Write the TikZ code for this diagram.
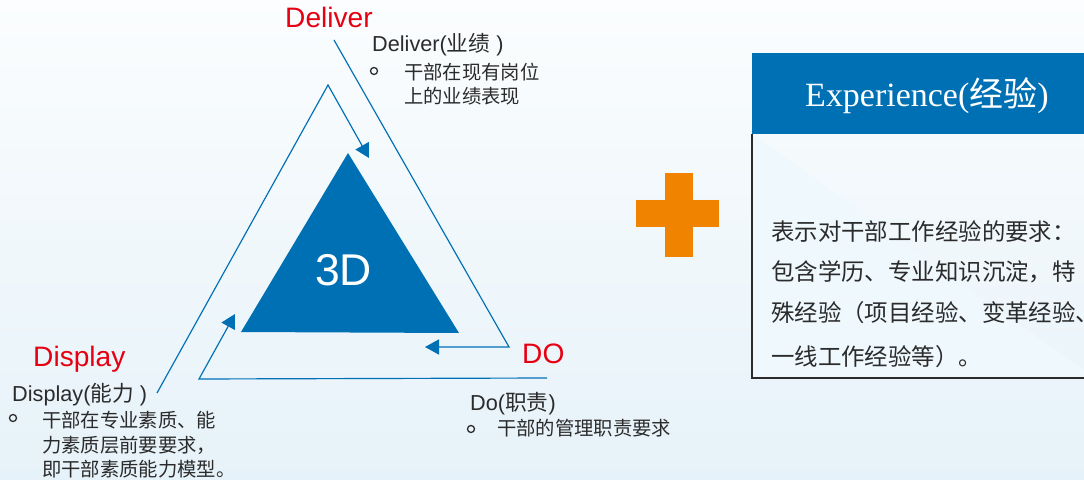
\documentclass[tikz,border=0pt]{standalone}
\usepackage{fontspec}
\setmainfont{Liberation Sans}
\newfontfamily\cjk{Noto Sans CJK SC}
\newfontfamily\serifen{Liberation Serif}
\usetikzlibrary{arrows.meta}

\definecolor{dblue}{HTML}{0070B5}
\definecolor{dred}{HTML}{E60012}
\definecolor{dorange}{HTML}{F08300}
\definecolor{dgray}{HTML}{2B2B2B}
\definecolor{bgtop}{HTML}{FBFDFE}
\definecolor{bgbot}{HTML}{E6F2F9}
\definecolor{boxbg}{HTML}{EEF8FD}

\tikzset{
  cycleline/.style={draw=dblue, line width=1pt, -{Triangle[length=12pt,width=13pt]}},
  redlbl/.style={anchor=base west, inner sep=0, text=dred, font=\fontsize{24}{28}\selectfont},
  namelbl/.style={anchor=base west, inner sep=0, text=dgray, font=\fontsize{18.5}{22}\selectfont},
  cjkline/.style={anchor=west, inner sep=0, text=dgray, text height=14.5pt, text depth=2pt,
    font=\cjk\fontsize{16.5}{20}\selectfont},
  boxline/.style={anchor=west, inner sep=0, text=dgray, text height=17.5pt, text depth=2.4pt,
    font=\cjk\fontsize{20}{24}\selectfont},
  bullet/.style={circle, draw=dgray, line width=1.1pt, inner sep=0, minimum size=6pt}
}

\begin{document}
\begin{tikzpicture}[x=0.03cm, y=-0.03cm]
\useasboundingbox (0,0) rectangle (1084,480);
\shade[top color=bgtop, bottom color=bgbot] (0,0) rectangle (1084,480);

% core triangle
\fill[dblue] (348,153) -- (241,332) -- (459,333) -- cycle;
\node[anchor=base west, inner sep=0, text=white, font=\fontsize{38}{40}\selectfont] (core) at (315,285) {3D};

% the three turning lines
\coordinate (dv-a) at (334,40);
\coordinate (dv-b) at (509,347);
\coordinate (dv-c) at (425,347);
\draw[cycleline] (dv-a) -- (dv-b) -- (dv-c);

\coordinate (dp-a) at (157,393);
\coordinate (dp-b) at (328,85);
\coordinate (dp-c) at (369,158);
\draw[cycleline] (dp-a) -- (dp-b) -- (dp-c);

\coordinate (do-a) at (547,378);
\coordinate (do-b) at (199,379);
\coordinate (do-c) at (235,314);
\draw[cycleline] (do-a) -- (do-b) -- (do-c);

% Deliver
\node[redlbl] (deliver) at (285,28) {Deliver};
\node[namelbl] (deliver-name) at (372,52) {Deliver({\cjk 业绩} )};
\node[bullet] (deliver-dot) at (374,71) {};
\node[cjkline] (deliver-l1) at (404,72) {干部在现有岗位};
\node[cjkline] (deliver-l2) at (404,96) {上的业绩表现};

% Display
\node[redlbl] (display) at (33,366) {Display};
\node[namelbl] (display-name) at (12,401) {Display({\cjk 能力} )};
\node[bullet] (display-dot) at (13,418) {};
\node[cjkline] (display-l1) at (42,420) {干部在专业素质、能};
\node[cjkline] (display-l2) at (42,445) {力素质层前要要求，};
\node[cjkline] (display-l3) at (42,469) {即干部素质能力模型。};

% Do
\node[redlbl] (do) at (522,363) {DO};
\node[namelbl] (do-name) at (470,410) {Do({\cjk 职责})};
\node[bullet] (do-dot) at (471,429) {};
\node[cjkline] (do-l1) at (497,428) {干部的管理职责要求};

% plus
\fill[dorange] (665,173) rectangle (693,257);
\fill[dorange] (636,200) rectangle (719,227);

% experience box
\fill[dblue] (752,53) rectangle (1095,134);
\draw[draw=dgray, line width=1.1pt, fill=boxbg] (752,134) -- (752,378) -- (1095,378);
\node[anchor=base west, inner sep=0, text=white, font=\fontsize{29}{32}\selectfont] (exp-title) at (805,107)
  {\serifen Experience(\cjk 经验\serifen)};
\node[boxline] (exp-l1) at (771,232) {表示对干部工作经验的要求：};
\node[boxline] (exp-l2) at (771,272) {包含学历、专业知识沉淀，特};
\node[boxline] (exp-l3) at (771,313) {殊经验（项目经验、变革经验、};
\node[boxline] (exp-l4) at (771,357) {一线工作经验等）。};

\end{tikzpicture}
\end{document}
